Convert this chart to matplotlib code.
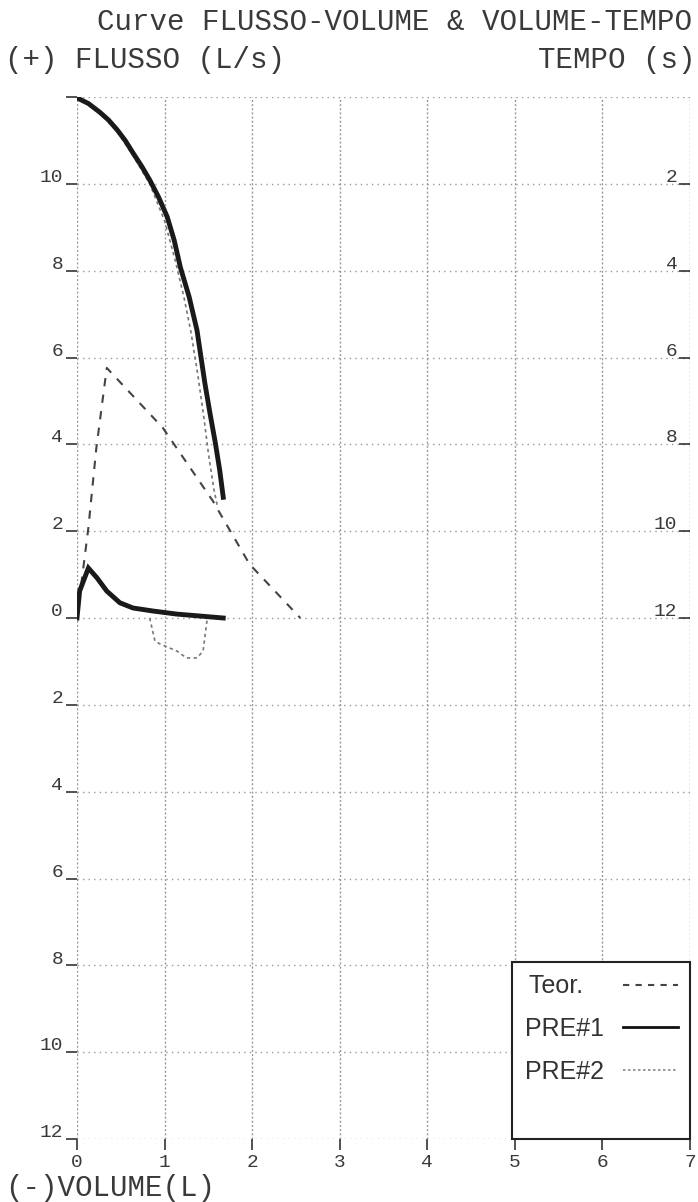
import matplotlib
matplotlib.use("Agg")
import matplotlib.pyplot as plt
from matplotlib.lines import Line2D
from matplotlib.transforms import ScaledTranslation

# Curva teorica flusso-volume
teor_vol = [0.0, 0.13, 0.22, 0.34, 0.98, 1.55, 1.97, 2.55]
teor_flow = [0.0, 2.08, 3.9, 5.76, 4.38, 2.7, 1.24, 0.0]

# PRE#1 flusso-volume
pre1_vol = [0.0, 0.03, 0.13, 0.23, 0.34, 0.49, 0.64, 0.87, 1.14, 1.67]
pre1_flow = [0.0, 0.62, 1.15, 0.92, 0.62, 0.35, 0.23, 0.16, 0.09, 0.0]

# PRE#2 flusso-volume (inspirazione)
pre2_vol = [0.83, 0.89, 0.95, 1.14, 1.25, 1.37, 1.44, 1.48, 1.49]
pre2_flow = [0.0, -0.53, -0.6, -0.76, -0.92, -0.92, -0.76, -0.12, 0.0]

# volume-tempo
pre1_vt_vol = [0.0, 0.13, 0.26, 0.36, 0.46, 0.55, 0.64, 0.74, 0.83, 0.93, 1.03,
               1.11, 1.18, 1.28, 1.37, 1.46, 1.52, 1.58, 1.63, 1.67]
pre1_vt_t = [0.02, 0.15, 0.35, 0.53, 0.76, 1.0, 1.29, 1.6, 1.91, 2.3, 2.76,
             3.3, 3.92, 4.6, 5.37, 6.59, 7.3, 7.97, 8.6, 9.22]
pre2_vt_vol = [0.0, 0.13, 0.26, 0.46, 0.64, 0.83, 1.0, 1.12, 1.22, 1.3, 1.38,
               1.45, 1.5, 1.56, 1.6]
pre2_vt_t = [0.02, 0.17, 0.37, 0.8, 1.35, 2.0, 2.85, 3.75, 4.6, 5.4, 6.4,
             7.4, 8.2, 9.0, 9.4]

flow_ticks = list(range(-12, 13, 2))
flow_labels = [str(abs(v)) for v in flow_ticks]
flow_labels[-1] = ""
vol_ticks = list(range(0, 8))
tempo_ticks = [2, 4, 6, 8, 10, 12]

mono = "Liberation Mono"
txt = "#3a3a3a"

fig = plt.figure(figsize=(6.98, 12.02), dpi=100)
ax = fig.add_axes([77/698, 1 - 1139/1202, 613/698, 1042/1202])
ax.set_xlim(0, 7)
ax.set_ylim(-12, 12)
for s in ax.spines.values():
    s.set_visible(False)

ax.set_xticks(vol_ticks)
ax.set_yticks(flow_ticks)
ax.set_yticklabels(flow_labels)
ax.tick_params(axis="both", colors="#333", labelcolor=txt, labelsize=14, width=1.2, length=8)
ax.tick_params(axis="y", pad=2)
ax.tick_params(axis="x", pad=3)
for lab in ax.get_xticklabels() + ax.get_yticklabels():
    lab.set_family(mono)
for lab in ax.get_yticklabels():
    lab.set_transform(lab.get_transform() + ScaledTranslation(0, 6/72, fig.dpi_scale_trans))

ax.xaxis.grid(True, color="#999", lw=1, ls=(0, (1.5, 1.5)))
ax.yaxis.grid(True, color="#999", lw=1, ls=(0, (1, 3)))
ax.set_axisbelow(True)

ax.plot(teor_vol, teor_flow, color="#444", lw=1.5, ls=(0, (4, 4)))
ax.plot(pre1_vol, pre1_flow, color="#1a1a1a", lw=3.5, solid_joinstyle="miter")
ax.plot(pre2_vol, pre2_flow, color="#777", lw=1.2, ls=(0, (2, 2)))

ax2 = ax.twinx()
ax2.set_ylim(24, 0)
for s in ax2.spines.values():
    s.set_visible(False)
ax2.set_yticks(tempo_ticks)
ax2.tick_params(axis="y", direction="in", length=8, width=1.2, colors="#333",
                labelcolor=txt, labelsize=14, pad=-9)
for lab in ax2.get_yticklabels():
    lab.set_family(mono)
    lab.set_horizontalalignment("right")
    lab.set_transform(lab.get_transform() + ScaledTranslation(0, 6/72, fig.dpi_scale_trans))
ax2.plot(pre2_vt_vol, pre2_vt_t, color="#777", lw=1.2, ls=(0, (2, 2)))
ax2.plot(pre1_vt_vol, pre1_vt_t, color="#1a1a1a", lw=3.5)

handles = [Line2D([], [], color="#444", lw=1.5, ls=(0, (3, 3))),
           Line2D([], [], color="#111", lw=2),
           Line2D([], [], color="#888", lw=1.2, ls=(0, (1.5, 1.5))),
           Line2D([], [], color="none")]
leg = ax2.legend(handles, ["Teor.   ", "PRE#1", "PRE#2", " "], loc="lower right",
                 markerfirst=False, borderaxespad=0, fancybox=False,
                 edgecolor="#222", framealpha=1, handlelength=2.2,
                 labelspacing=0.75, borderpad=0.5, handletextpad=0.75,
                 prop={"family": "Liberation Sans", "size": 18})
leg.get_frame().set_linewidth(1.5)
for t in leg.get_texts():
    t.set_color("#333")

fig.text(97/698, 1 - 22/1202, "Curve FLUSSO-VOLUME & VOLUME-TEMPO", family=mono,
         size=21, color=txt, va="center", ha="left")
fig.text(5/698, 1 - 60/1202, "(+) FLUSSO (L/s)", family=mono, size=21, color=txt,
         va="center", ha="left")
fig.text(695/698, 1 - 60/1202, "TEMPO (s)", family=mono, size=21, color=txt,
         va="center", ha="right")
fig.text(5/698, 1 - 1188/1202, "(-)VOLUME(L)", family=mono, size=21, color=txt,
         va="center", ha="left")

fig.savefig("out.png", dpi=100, facecolor="white")
